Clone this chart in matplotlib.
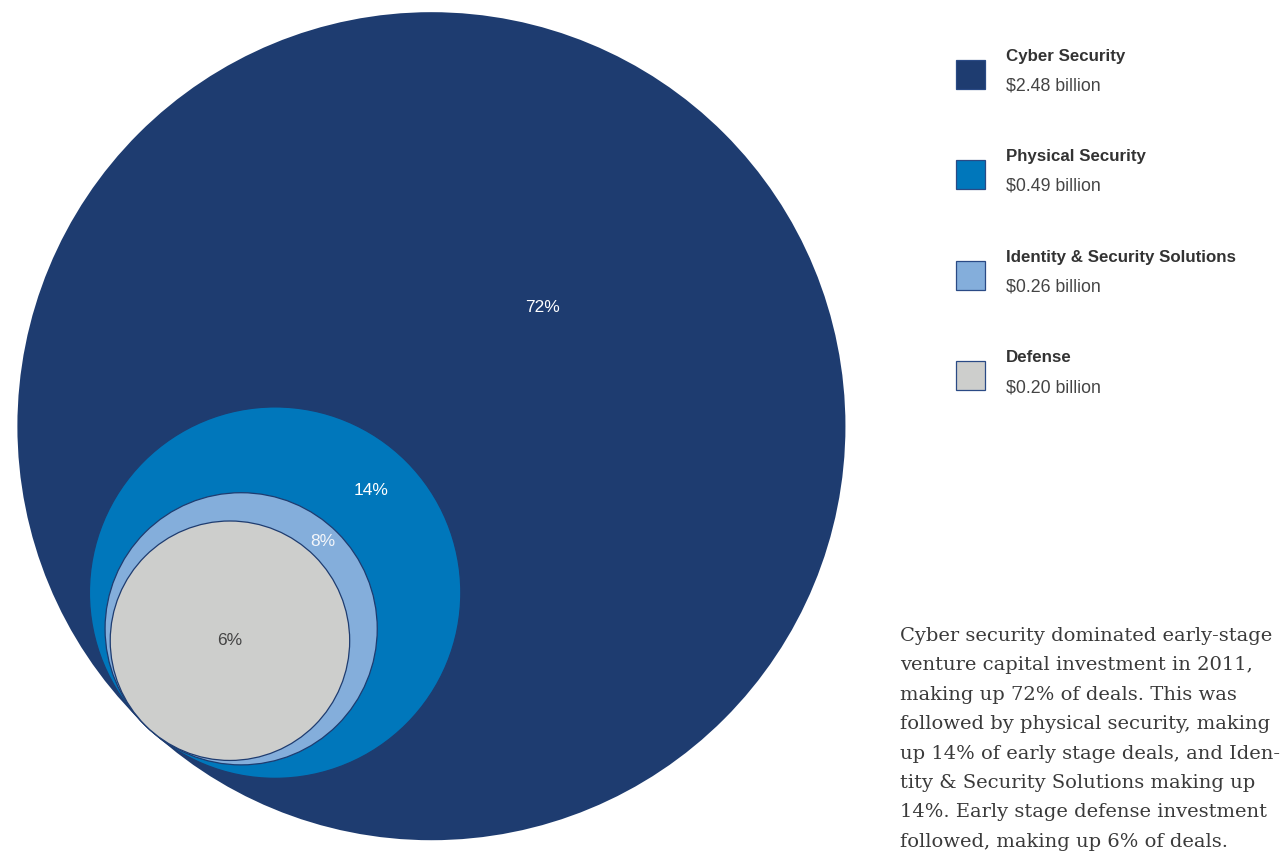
import numpy as np
import matplotlib.pyplot as plt
from matplotlib.patches import Circle, Rectangle

# Early-stage venture capital investment, 2011 (billions of dollars)
sectors = ['Cyber Security', 'Physical Security', 'Identity & Security Solutions', 'Defense']
amounts = [2.48, 0.49, 0.26, 0.20]
shares = [72, 14, 8, 6]
colors = ['#1e3c70', '#0077bb', '#84aedb', '#cdcecc']
label_colors = ['white', 'white', '#f4f6fa', '#444444']

note_lines = [
    'Cyber security dominated early-stage',
    'venture capital investment in 2011,',
    'making up 72% of deals. This was',
    'followed by physical security, making',
    'up 14% of early stage deals, and Iden-',
    'tity & Security Solutions making up',
    '14%. Early stage defense investment',
    'followed, making up 6% of deals.',
]

W, H = 1288, 855
fig = plt.figure(figsize=(W / 100, H / 100), dpi=100)
ax = fig.add_axes([0, 0, 1, 1])
ax.set_xlim(0, W)
ax.set_ylim(H, 0)
ax.set_aspect('equal')
ax.axis('off')

# circles share one tangent point, area proportional to amount
scale, pad = 261, 3
tangent = np.array([148.0, 728.0])
ang = np.deg2rad(46.8)
u = np.array([np.cos(ang), -np.sin(ang)])
radii = [scale * np.sqrt(a) + pad for a in amounts]

for i, (r, c) in enumerate(zip(radii, colors)):
    center = tangent + r * u
    ax.add_patch(Circle(center, r, facecolor=c,
                        edgecolor='#1e3c70', lw=0.9 if i else 0, zorder=i + 1))

# percentage labels sit in the ring between each circle and the next one inside
gap_frac = [0.45, 0.54, 0.5]
for i, s in enumerate(shares):
    if i < len(shares) - 1:
        d = 2 * radii[i + 1] + gap_frac[i] * (2 * radii[i] - 2 * radii[i + 1])
    else:
        d = radii[i]
    pos = tangent + d * u
    ax.text(pos[0], pos[1], f'{s}%', color=label_colors[i], fontsize=12.5,
            family='Liberation Sans', ha='center', va='center', zorder=10)

# legend
for i, (name, amt, c) in enumerate(zip(sectors, amounts, colors)):
    y0 = 56 + i * 100.5
    ax.add_patch(Rectangle((956, y0 + 4), 29, 29, facecolor=c,
                           edgecolor='#2a4a85', lw=0.9))
    ax.text(1006, y0, name, fontsize=12.2, fontweight='bold', color='#333333',
            family='Liberation Sans', ha='left', va='center')
    ax.text(1006, y0 + 30, f'${amt:.2f} billion', fontsize=12.8, color='#444444',
            family='Liberation Sans', ha='left', va='center')

# description
for k, line in enumerate(note_lines):
    ax.text(900, 636 + k * 29.4, line, fontsize=14.0, color='#3a3a3a',
            family='DejaVu Serif', ha='left', va='center')

fig.savefig('out.png', dpi=100)
